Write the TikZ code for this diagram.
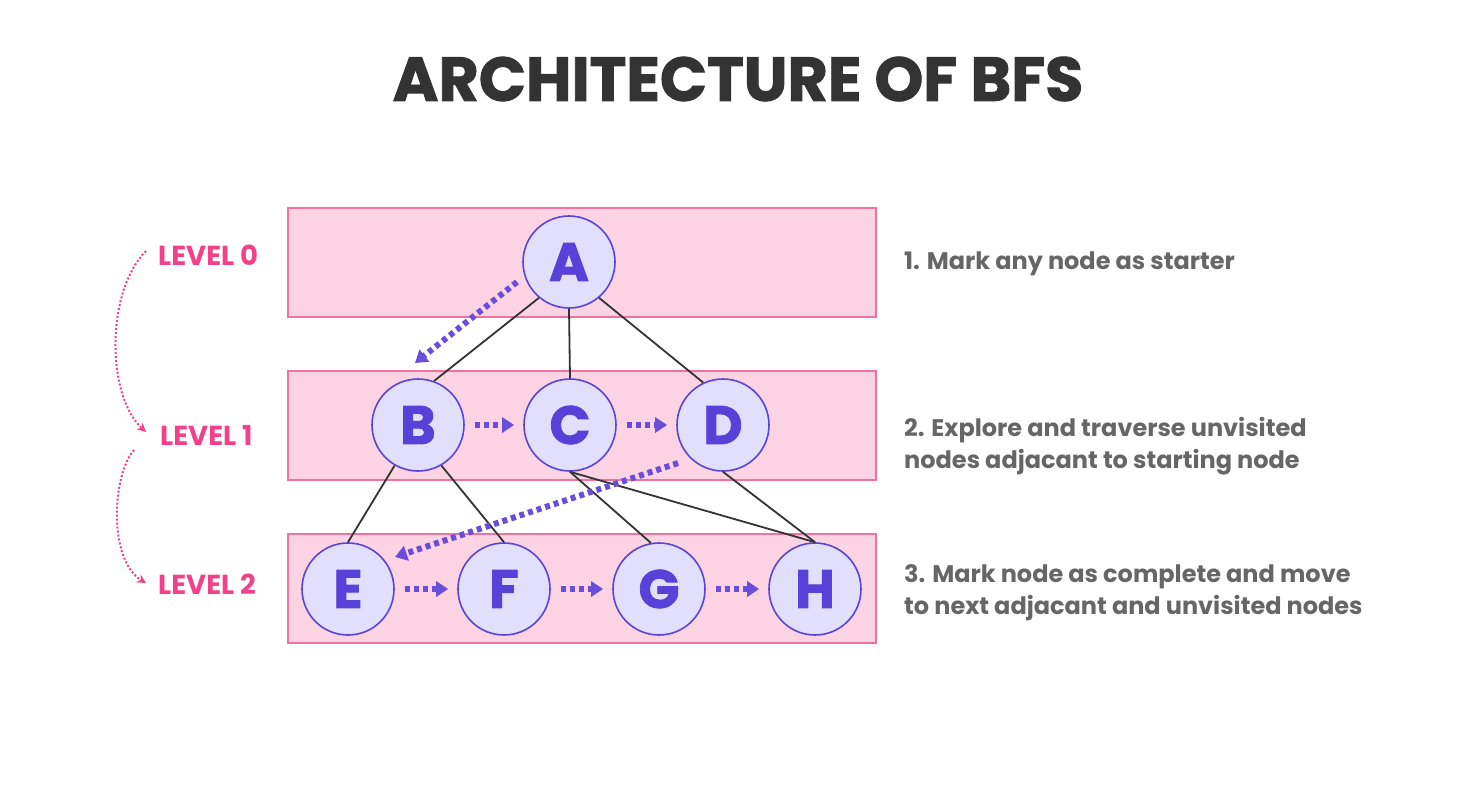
\documentclass[tikz,border=0pt]{standalone}
\usepackage{fontspec}
\setmainfont{Poppins}
\newfontfamily\heavyfont{Poppins}[FakeBold=1.5]
\usetikzlibrary{arrows.meta}
\definecolor{bandfill}{HTML}{FCD3E3}
\definecolor{bandline}{HTML}{F2729F}
\definecolor{nodefill}{HTML}{E2DFFC}
\definecolor{nodeline}{HTML}{5B45D6}
\definecolor{nodetext}{HTML}{5840D9}
\definecolor{visitcol}{HTML}{6A4DDA}
\definecolor{edgecol}{HTML}{333333}
\definecolor{levelcol}{HTML}{F2418A}
\definecolor{notecol}{HTML}{666666}
\definecolor{titlecol}{HTML}{333333}
\begin{document}
\begin{tikzpicture}[x=1pt, y=-1pt,
		band/.style={fill=bandfill, draw=bandline, line width=1.5pt},
		vertex/.style={circle, draw=nodeline, fill=nodefill, line width=1.6pt, minimum size=92pt, inner sep=0pt, text=nodetext, font=\fontsize{54}{54}\heavyfont\bfseries},
		edge/.style={draw=edgecol, line width=1.8pt},
		visit/.style={draw=visitcol, line width=6pt, dash pattern=on 5pt off 4pt, -{Triangle[length=12pt,width=15pt]}},
		level/.style={anchor=west, inner sep=0pt, text=levelcol, font=\fontsize{27.5}{28}\selectfont\bfseries},
		levelarrow/.style={draw=levelcol, line width=2pt, dash pattern=on 2pt off 2pt, -{Stealth[length=9pt,width=9pt,inset=3pt]}},
		note/.style={anchor=west, inner sep=0pt, align=left, text=notecol, font=\fontsize{24}{32}\selectfont\bfseries}]

	\useasboundingbox (0,0) rectangle (1478,801);

	\node [text=titlecol, font=\fontsize{62}{62}\heavyfont\bfseries] (title) at (738,79) {ARCHITECTURE OF BFS};

	\draw [band] (288,208) rectangle (876,317);
	\draw [band] (288,371) rectangle (876,480);
	\draw [band] (288,534) rectangle (876,643);

	\node [level] (lvzero) at (158,255) {LEVEL 0};
	\node [level] (lvone) at (160,435) {LEVEL 1};
	\node [level] (lvtwo) at (158,584) {LEVEL 2};

	\draw [levelarrow] ([shift={(-12,-4)}]lvzero.west) .. controls +(-40,40) and +(-40,-37) .. ([shift={(-14,-3)}]lvone.west);
	\draw [levelarrow] ([shift={(-26,15)}]lvone.west) .. controls +(-22,25) and +(-38,-23) .. ([shift={(-12,-1)}]lvtwo.west);

	\node [vertex] (A) at (569,262) {A};
	\node [vertex] (B) at (418,425) {B};
	\node [vertex] (C) at (570,425) {C};
	\node [vertex] (D) at (723,425) {D};
	\node [vertex] (E) at (348,589) {E};
	\node [vertex] (F) at (504,589) {F};
	\node [vertex] (G) at (659,589) {G};
	\node [vertex] (H) at (815,589) {H};

	\draw [edge] (A.230) -- (B.70);
	\draw [edge] (A.south) -- (C.north);
	\draw [edge] (A.310) -- (D.115);
	\draw [edge] (B.240) -- (E.north);
	\draw [edge] (B.300) -- (F.north);
	\draw [edge] (C.south) -- (G.100);
	\draw [edge] (C.south) -- (H.north);
	\draw [edge] (D.south) -- (H.north);

	\draw [visit] ([shift={(-52,20)}]A.center) -- ([shift={(-3,-62)}]B.center);
	\draw [visit] ([shift={(-45,38)}]D.center) -- ([shift={(47,-32)}]E.center);
	\foreach \from/\to in {B/C, C/D, E/F, F/G, G/H}
		\draw [visit, shorten <=10pt, shorten >=9pt] (\from) -- (\to);

	\node [note] (stepone) at (904,264) {1. Mark any node as starter};
	\node [note] (steptwo) at (904,446) {2. Explore and traverse unvisited\\nodes adjacant to starting node};
	\node [note] (stepthree) at (904,593) {3. Mark node as complete and move\\to next adjacant and unvisited nodes};
\end{tikzpicture}
\end{document}
